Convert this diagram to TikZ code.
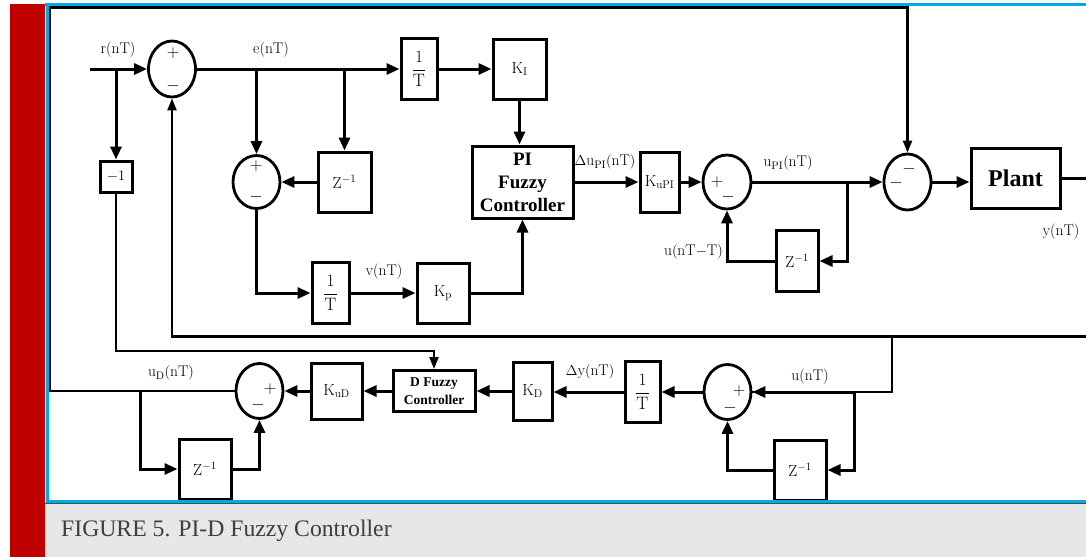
\documentclass[tikz,border=0pt]{standalone}
\usepackage{fontspec}
\usetikzlibrary{arrows.meta,shapes.geometric}
\newfontfamily\tbfont{Liberation Serif}
\definecolor{redbar}{RGB}{192,0,0}
\definecolor{bluel}{RGB}{0,170,228}
\definecolor{panel}{RGB}{230,231,233}
\definecolor{captxt}{RGB}{62,62,62}
\newcommand\lblfont{\fontsize{15.5}{17}\selectfont}
\newcommand\boxfont{\fontsize{16}{18}\selectfont}
\newcommand\fracT{$\displaystyle\frac{1}{\mathrm{T}}$}
\begin{document}
\begin{tikzpicture}[x=1pt,y=-1pt,
  blk/.style={draw, line width=3pt, inner sep=0pt, font=\boxfont},
  sumj/.style={draw, ellipse, line width=2.8pt, inner sep=0pt, minimum width=47pt, minimum height=56pt},
  conn/.style={line width=3pt, -{Triangle[length=13pt,width=11pt]}},
  wire/.style={line width=3pt},
  thinwire/.style={line width=2.2pt},
  thinconn/.style={line width=2.2pt, -{Triangle[length=12pt,width=9pt]}},
  lab/.style={font=\lblfont, inner sep=0pt},
  sgn/.style={font=\fontsize{17}{17}\selectfont, inner sep=0pt},
  frac/.style={font=\fontsize{18}{20}\selectfont},
]
\useasboundingbox (0,0) rectangle (1086,557);
\fill[white] (0,0) rectangle (1086,557);
\fill[redbar] (10,4) rectangle (45,557);

% ---------- top row ----------
\node[sumj] (s1) at (172,69) {};
\node[sgn] (s1p) at (173,53) {$+$};
\node[sgn] (s1m) at (173,86) {$-$};
\node[lab] (lr) at (118,50) {r(nT)};
\node[lab] (le) at (271,50) {e(nT)};
\node[blk, frac, minimum width=36pt, minimum height=61pt] (inv1) at (419,69) {\fracT};
\node[blk, minimum width=53pt, minimum height=60pt] (ki) at (519.5,69) {$\mathrm{K_I}$};
\node[blk, minimum width=101pt, minimum height=72pt, align=center,
      font=\tbfont\bfseries\fontsize{19}{23}\selectfont] (pi) at (522.5,182) {PI\\Fuzzy\\Controller};
\node[blk, minimum width=53pt, minimum height=60pt] (z1) at (344.5,182) {$\mathrm{Z^{-1}}$};
\node[sumj, minimum width=47pt, minimum height=53pt] (s2) at (256.5,182) {};
\node[sgn] (s2p) at (256,166) {$+$};
\node[sgn] (s2m) at (256,197) {$-$};
\node[blk, frac, minimum width=37pt, minimum height=61pt] (inv2) at (330.5,293) {\fracT};
\node[blk, minimum width=52pt, minimum height=60pt] (kp) at (443,293) {$\mathrm{K_p}$};
\node[lab] (lv) at (384,272) {v(nT)};
\node[lab] (ldu) at (605,162) {$\Delta\mathrm{u_{PI}(nT)}$};
\node[blk, minimum width=39pt, minimum height=60pt] (kupi) at (659.5,182) {$\mathrm{K_{uPI}}$};
\node[sumj, minimum width=48pt, minimum height=54pt] (s3) at (727,182) {};
\node[sgn] (s3p) at (717,182) {$+$};
\node[sgn] (s3m) at (728,197) {$-$};
\node[lab] (lupi) at (788,163) {$\mathrm{u_{PI}(nT)}$};
\node[blk, minimum width=42pt, minimum height=61pt] (z3) at (797,261) {$\mathrm{Z^{-1}}$};
\node[lab, anchor=east] (lunt) at (723,252) {$\mathrm{u(nT{-}T)}$};
\node[sumj, minimum width=47pt, minimum height=56pt] (s4) at (907.5,182) {};
\node[sgn] (s4a) at (909,169) {$-$};
\node[sgn] (s4b) at (896,183) {$-$};
\node[blk, minimum width=89pt, minimum height=60pt,
      font=\tbfont\bfseries\fontsize{24}{24}\selectfont] (plant) at (1015.5,178) {Plant};
\node[lab] (ly) at (1061,232) {y(nT)};
\node[blk, minimum width=32pt, minimum height=31pt, font=\lblfont] (neg) at (116,176.5) {$-1$};

% ---------- bottom row ----------
\node[sumj, minimum width=47pt, minimum height=55pt] (s5) at (259.5,391) {};
\node[sgn] (s5p) at (270,389) {$+$};
\node[sgn] (s5m) at (258,405) {$-$};
\node[lab] (lud) at (171,373) {$\mathrm{u_D(nT)}$};
\node[blk, minimum width=52pt, minimum height=60pt] (z4) at (205,469) {$\mathrm{Z^{-1}}$};
\node[blk, minimum width=51pt, minimum height=56pt] (kud) at (336.5,391) {$\mathrm{K_{uD}}$};
\node[blk, minimum width=82pt, minimum height=41pt, align=center,
      font=\tbfont\bfseries\fontsize{13.5}{17.5}\selectfont] (dfz) at (434,391) {D Fuzzy\\Controller};
\node[blk, minimum width=39pt, minimum height=58pt] (kd) at (532.5,391) {$\mathrm{K_D}$};
\node[lab] (ldy) at (590,372) {$\Delta\mathrm{y(nT)}$};
\node[blk, frac, minimum width=35pt, minimum height=61pt] (inv3) at (642.5,392) {\fracT};
\node[sumj, minimum width=47pt, minimum height=55pt] (s6) at (727.5,392) {};
\node[sgn] (s6p) at (739,391) {$+$};
\node[sgn] (s6m) at (730,408) {$-$};
\node[lab] (lu) at (810,377) {u(nT)};
\node[blk, minimum width=52pt, minimum height=60pt] (z5) at (800,470) {$\mathrm{Z^{-1}}$};

% ---------- coordinates ----------
\coordinate (rin) at (90,69);
\coordinate (rtap) at (116,69);
\coordinate (nbend) at (116,351);
\coordinate (yfb) at (1086,336.5);
\coordinate (utap) at (892,336.5);
\coordinate (utap2) at (854,392);
\coordinate (udtap) at (140,391);
\coordinate (lft) at (50,7.5);
\coordinate (yout) at (1086,178);
\coordinate (upitap) at (847,182);

% ---------- connectors ----------
\draw[conn] (rin) -- (s1.west);
\draw[conn] (rtap) -- (neg.north);
\draw[thinconn] (neg.south) -- (nbend) -| (dfz.north);
\draw[conn] (s1.east) -- (inv1.west);
\draw[conn] (s2 |- s1) -- (s2.north);
\draw[conn] (z1 |- s1) -- (z1.north);
\draw[conn] (z1.west) -- (s2.east);
\draw[conn] (s2.south) |- (inv2.west);
\draw[conn] (inv2.east) -- (kp.west);
\draw[conn] (kp.east) -| (pi.south);
\draw[conn] (inv1.east) -- (ki.west);
\draw[conn] (ki.south) -- (ki.south |- pi.north);
\draw[conn] (pi.east) -- (kupi.west);
\draw[conn] (kupi.east) -- (s3.west);
\draw[conn] (s3.east) -- (s4.west);
\draw[conn] (upitap) |- (z3.east);
\draw[conn] (z3.west) -| (s3.south);
\draw[conn] (s4.east) -- (plant.west |- s4.east);
\draw[wire] (plant.east) -- (yout);
\draw[thinconn] (yfb) -| (s1.south);
\draw[thinwire] (utap) |- (s6.east);
\draw[conn] (utap2) -- (s6.east);
\draw[conn] (utap2) |- (z5.east);
\draw[conn] (z5.west) -| (s6.south);
\draw[conn] (s6.west) -- (inv3.east);
\draw[conn] (inv3.west) -- (kd.east |- inv3.west);
\draw[conn] (kd.west) -- (dfz.east);
\draw[conn] (dfz.west) -- (kud.east);
\draw[conn] (kud.west) -- (s5.east);
\draw[conn] (udtap) |- (z4.west);
\draw[conn] (z4.east) -| (s5.south);
\draw[thinconn] (s5.west) -| (lft) -| (s4.north);

% ---------- frame & caption ----------
\fill[panel] (45,502.5) rectangle (1086,557);
\draw[line width=0.8pt, black!70] (45,503) -- (1086,503);
\draw[bluel, line width=3pt] (45,4.75) -- (1086,4.75);
\draw[bluel, line width=3pt] (47.5,3.25) -- (47.5,502.5);
\draw[bluel, line width=3pt] (46,501) -- (1086,501);
\node[anchor=base west, inner sep=0pt, text=captxt, font=\tbfont\fontsize{23.7}{26}\selectfont] (cap) at (61,536) {FIGURE 5. PI-D Fuzzy Controller};
\end{tikzpicture}
\end{document}
